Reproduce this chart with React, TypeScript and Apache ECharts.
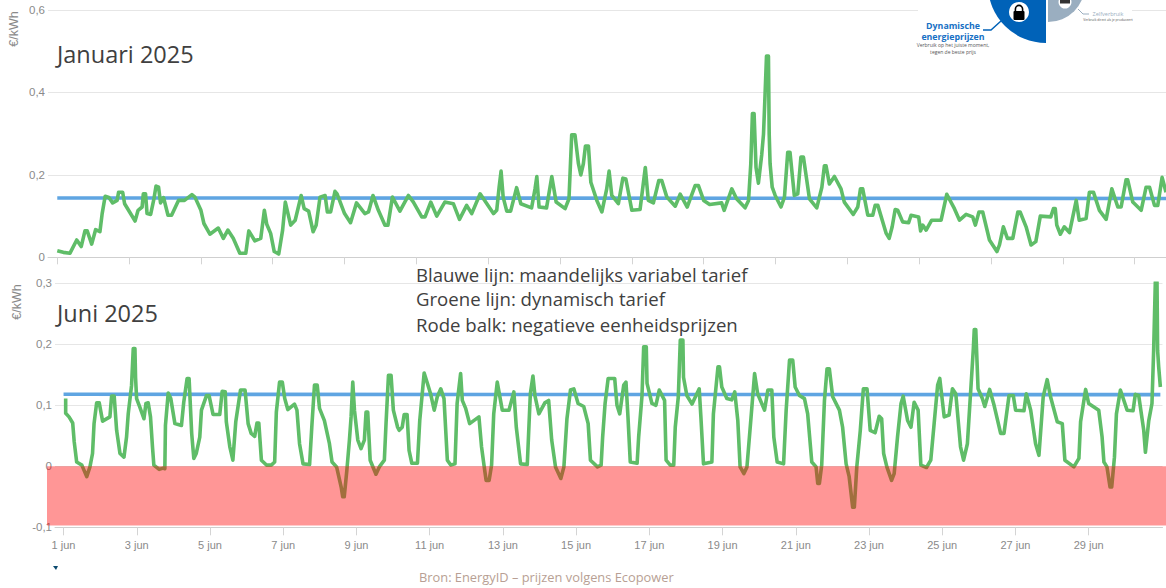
import React, { useEffect, useRef } from "react";
import * as echarts from "echarts";

const janHourTicks = [0,48,96,144,192,240,288,336,384,432,480,528,576,624,672,720];
const junHourTicks = [0,48,96,144,192,240,288,336,384,432,480,528,576,624,672];
const junTickLabels = ["1 jun","3 jun","5 jun","7 jun","9 jun","11 jun","13 jun","15 jun","17 jun","19 jun","21 jun","23 jun","25 jun","27 jun","29 jun"];
const janVariable = [[0,.144],[8,.144],[8,.1428],[744,.1428]];
const junVariable = [[0,.118],[11,.118],[11,.1175],[719,.1175]];
const janDynamic = [
[0,.016],[4,.012],[8.5,.01],[13,.042],[16,.026],[18.5,.064],[20,.064],[23,.032],[25.6,.067],[28.5,.062],[30,.106],[32,.148],[34.5,.145],[37,.132],[40,.138],[41,.158],[43.7,.158],[45,.13],[52,.088],[54,.114],[56.7,.122],[57.5,.154],[59,.154],[60,.106],[62.4,.104],[64.6,.142],[66,.173],[67.7,.17],[69,.132],[71,.145],[74,.102],[76.4,.102],[81,.138],[85,.138],[90,.152],[92,.146],[96,.114],[98,.082],[102,.056],[107.6,.071],[111,.046],[114,.066],[117.6,.046],[122,.01],[126,.01],[128,.064],[132,.04],[136,.046],[138.4,.114],[140,.08],[142.6,.058],[145,.014],[148,.008],[150.6,.066],[152.4,.134],[156,.078],[159,.09],[163,.15],[165,.118],[168,.112],[171,.062],[173,.078],[175.6,.146],[179,.15],[180.5,.11],[182.7,.11],[185.6,.16],[187,.154],[192,.106],[196,.084],[200,.132],[205.6,.106],[208,.11],[211,.15],[214.6,.114],[219,.078],[221,.078],[224,.146],[229,.112],
[234.7,.15],[238,.134],[243.6,.098],[245.8,.098],[249.6,.134],[253.6,.1],[259,.134],[264.7,.13],[268.8,.092],[273.6,.126],[277,.106],[282.6,.154],[291.5,.106],[293.7,.114],[295.3,.17],[296.6,.209],[298,.146],[300.4,.112],[303,.112],[307,.169],[309.8,.13],[317,.12],[319.3,.166],[320.5,.196],[322,.122],[327,.12],[330.5,.196],[333.4,.134],[339.4,.118],[342,.142],[343.8,.297],[346,.297],[348.3,.227],[349.9,.2],[351.6,.227],[353,.27],[355,.27],[356.6,.182],[360.6,.138],[364,.11],[367.2,.166],[368.8,.209],[370.6,.15],[375,.13],[378,.192],[380,.19],[384,.114],[389.5,.116],[393,.218],[395,.138],[398.4,.132],[402,.186],[404,.186],[407.4,.146],[413,.124],[416.3,.153],[421,.122],[426.3,.174],[428.5,.174],[432,.138],[436,.128],[444,.132],[445.7,.114],[450.8,.166],[454,.142],[459.7,.12],[462,.138],[463.5,.227],[464.6,.349],[465.7,.349],[467,.218],[468.6,.18],[470.8,.249],[472,.299],[473,.391],[474,.488],[475.3,.488],[475.8,.299],[476.4,.227],[477.8,.17],[479.8,.15],[483.7,.122],[486,.146],[488.2,.255],[489.7,.255],[492.6,.15],[494.9,.154],[497,.243],[498.7,.243],[502.7,.142],[507.6,.12],[511,.17],[512.7,.222],[513.8,.222],[516,.178],[519.4,.196],[523.8,.166],[526,.134],[532,.104],[535,.122],[536.8,.166],[538.3,.166],[541.7,.102],[545,.102],[546.6,.126],[548.4,.126],[554,.058],[556,.046],[558,.074],[560,.116],[561.7,.114],[565,.086],[569,.084],[570.6,.102],[575.7,.098],[577,.064],[578.4,.078],[580.7,.066],[584.4,.09],[590.7,.09],[594.5,.153],[599.6,.118],[603,.09],[607.4,.104],[611.8,.098],[613.6,.078],[616,.11],[618.5,.11],[623,.042],[628,.014],[629.7,.03],[632.3,.074],[635,.046],[638.6,.046],[642,.11],[643.5,.11],[647.5,.074],[650.8,.03],[654,.038],[657,.1],[664,.098],[665.8,.118],[667,.118],[668,.078],[670.4,.056],[673,.074],[676.5,.06],[681,.138],[683,.09],[687.6,.094],[689.8,.158],[692.5,.158],[696.5,.114],[701,.092],[704.8,.166],[708.8,.122],[711,.122],[714.3,.188],[715.4,.188],[718.8,.134],[724.4,.114],[727.7,.17],[730,.17],[733.3,.126],[735.5,.126],[738.4,.194],[741,.158]
];
const junDynamic = [
[1.4,.111],[1.4,.087],[3.6,.081],[6,.071],[7,.04],[8.6,.007],[12,.002],[15.2,-.017],[17.3,-.001],[19,.021],[20,.07],[21.7,.104],[23.4,.104],[25.6,.074],[30.4,.081],[31.5,.115],[33.2,.115],[34.8,.059],[37,.021],[39.6,.015],[41.3,.048],[42.4,.086],[44.6,.133],[45.7,.193],[46.8,.193],[47.2,.146],[47.9,.111],[50,.097],[52.7,.078],[54,.103],[55.5,.104],[57,.081],[58.3,.032],[59.2,.002],[62.7,-.005],[65.3,-.003],[66.4,-.004],[66.8,.067],[68.6,.12],[70.3,.111],[73,.07],[77.3,.067],[78.8,.105],[81,.144],[82.3,.144],[84,.054],[85.4,.013],[87,.021],[89.3,.048],[90.4,.092],[93.7,.116],[95.4,.116],[98,.085],[102.4,.085],[104,.123],[106,.122],[106.7,.073],[109,.032],[111,.01],[112.9,.073],[116,.125],[119,.125],[121,.07],[123,.054],[125.3,.049],[126.8,.071],[128,.071],[129.7,.01],[133,.002],[136.2,.002],[138.4,.007],[139.5,.089],[141.6,.138],[143.4,.138],[145,.111],[147,.093],[151.4,.102],[153,.092],[154.7,.037],[157,.004],[161.3,.003],[162.8,.067],[164.5,.133],[166.3,.133],[167.8,.095],[171,.075],[174.3,.037],[176,.007],[179,-.001],[182,-.034],[183,-.05],[184,-.05],[185.7,-.007],[187.4,.043],[188.5,.081],[189.6,.138],[190.7,.092],[192.9,.043],[195,.029],[197.2,.043],[198.3,.089],[199.4,.089],[201,.01],[204.8,-.013],[207,-.001],[210.3,.01],[211.4,.07],[213,.149],[214.7,.149],[216.2,.092],[219,.064],
[220,.059],[222,.064],[223.3,.085],[225.2,.085],[226.5,.026],[228.3,.005],[232,.005],[233.5,.075],[236.4,.153],[238.5,.136],[240.7,.118],[243,.092],[245,.114],[247.3,.127],[249.4,.111],[251.6,.01],[253.8,.002],[256.6,.004],[258,.103],[260.3,.152],[261.4,.108],[263.6,.095],[266.2,.07],[272.3,.081],[274,.032],[275.6,.002],[277,-.023],[279,-.023],[280.6,.002],[282,.086],[284.3,.138],[287.6,.092],[292,.092],[295.2,.122],[296.8,.064],[299.6,.004],[304,.003],[306,.119],[307.7,.148],[309,.116],[311.6,.086],[315.5,.104],[318,.108],[320,.043],[322.5,-.001],[326,-.02],[328,-.001],[330,.078],[332.3,.125],[334.5,.127],[337.3,.103],[341,.098],[343.9,.07],[345.4,.01],[350,-.001],[352.4,.002],[353.4,.048],[355,.103],[357,.144],[361.3,.144],[362.8,.1],[364.6,.086],[367.2,.133],[368.7,.138],[370,.081],[371.5,.007],[376,.005],[377,.048],[379.2,.116],[380.3,.196],[382,.196],[382.5,.136],[385.7,.103],[388.3,.1],[390.5,.125],[394,.108],[395,.01],[397.7,.002],[400,.002],[401,.064],[403,.114],[404.3,.207],[406,.207],[406.4,.146],[408.6,.116],[412,.102],[416.7,.127],[417.8,.081],[419.5,.004],[425,.007],[426,.086],[429,.163],[430,.163],[431.5,.13],[434.8,.111],[438,.109],[440,.122],[442,.075],[443.5,-.001],[446,-.012],[448,-.001],[450.7,.081],[453,.152],[455,.119],[459.5,.092],
[461.7,.125],[464.3,.125],[465.6,.048],[467.8,.007],[472,.004],[473.7,.092],[475.9,.174],[478,.174],[479.6,.13],[482.4,.116],[485.7,.111],[487.8,.086],[490.5,.007],[493.3,-.001],[494.4,-.028],[495.5,-.028],[497,.002],[498.8,.108],[500.5,.16],[502,.16],[504.2,.114],[508.6,.092],[510.7,.064],[513,.004],[515,-.017],[517.3,-.067],[518.4,-.067],[520,-.001],[522.3,.059],[524.3,.127],[526.7,.127],[528.8,.059],[532,.055],[534.7,.082],[536.3,.078],[537.6,.021],[539.7,-.001],[542.8,-.023],[544.5,-.012],[546.7,.048],[549,.103],[550.4,.115],[553.3,.075],[555.5,.064],[557.6,.105],[560.2,.092],[562,.002],[565.7,-.002],[568.5,.01],[570.7,.07],[573,.133],[574.4,.144],[577.3,.081],[580.5,.084],[582.7,.127],[584.9,.119],[588,.032],[590,.01],[592.5,.037],[595.1,.141],[596.4,.193],[597,.224],[598,.224],[599.5,.127],[602.3,.111],[603.9,.098],[607.1,.126],[610,.1],[614.3,.054],[616.5,.054],[619.8,.116],[622.6,.116],[624.1,.092],[629.6,.091],[631.1,.119],[634,.092],[637.2,.037],[639.4,.018],[642.2,.114],[644.8,.142],[647,.114],[651.4,.073],[654.7,.07],[656.4,.01],[662.3,-.001],[665.6,.013],[666.7,.073],[670,.126],[672,.103],[678.6,.092],[680.8,.048],[682,.007],[684,-.001],[686,-.034],[687.1,-.034],[688.9,.015],[690.2,.086],[692.8,.125],[697.2,.092],[701.1,.091],[702.6,.118],[704.8,.116],[708.1,.059],[709.2,.023],[711.4,.075],[713.5,.103],[714.6,.19],[715.7,.302],[716.8,.302],[717.2,.19],[717.9,.163],[719,.13]
];

const GREEN = "#5fbd68";
const BLUE = "#5fa5e2";
const GREY = "#8a8a8a";
const TEXT = "#404040";
const SANS = "'Open Sans', sans-serif";
const AXIS_FONT = "Liberation Sans, Arial";
const axisFmt = (v: number) => (v === 0 ? "0" : v.toFixed(1).replace(".", ","));

function logo(): any[] {
  const blue = "#0062b8";
  const slate = "#9aaec0";
  const t = (text: string, x: number, y: number, fontSize: number, fill: string, fontWeight: any = "normal") => ({
    type: "text", z: 105, style: { text, x, y, fontSize, fill, fontWeight, fontFamily: SANS, align: "center", verticalAlign: "middle" },
  });
  return [
    { type: "rect", z: 100, shape: { x: 918, y: 0, width: 214, height: 56 }, style: { fill: "#fff" } },
    { type: "sector", z: 101, shape: { cx: 1046, cy: -15, r: 58, r0: 0, startAngle: Math.PI / 2, endAngle: Math.PI, clockwise: true }, style: { fill: blue } },
    { type: "sector", z: 101, shape: { cx: 1048, cy: -15, r: 37, r0: 0, startAngle: 0, endAngle: Math.PI / 2, clockwise: true }, style: { fill: slate } },
    { type: "polyline", z: 102, shape: { points: [[983, 30], [991, 30], [1001, 21]] }, style: { stroke: blue, lineWidth: 1.5, fill: "none" } },
    { type: "polyline", z: 102, shape: { points: [[1078, 9], [1083, 14], [1089, 14]] }, style: { stroke: slate, lineWidth: 1, fill: "none" } },
    { type: "circle", z: 102, shape: { cx: 1019, cy: 12, r: 10 }, style: { fill: "#fff" } },
    { type: "rect", z: 103, shape: { x: 1013.5, y: 11, width: 11, height: 9, r: 1 }, style: { fill: "#000" } },
    { type: "arc", z: 103, shape: { cx: 1019, cy: 9, r: 3.6, startAngle: Math.PI, endAngle: 2 * Math.PI, clockwise: true }, style: { stroke: "#000", lineWidth: 1.6, fill: "none" } },
    { type: "rect", z: 103, shape: { x: 1014.6, y: 9, width: 1.6, height: 3 }, style: { fill: "#000" } },
    { type: "rect", z: 103, shape: { x: 1021.8, y: 9, width: 1.6, height: 3 }, style: { fill: "#000" } },
    { type: "circle", z: 102, shape: { cx: 1065, cy: 2, r: 6.5 }, style: { fill: "#fff" } },
    { type: "rect", z: 103, shape: { x: 1060, y: 0, width: 10, height: 3.5 }, style: { fill: "#333" } },
    t("Dynamische", 953, 26, 8.8, "#1670c4", "bold"),
    t("energieprijzen", 953, 36.5, 8.8, "#1670c4", "bold"),
    t("Verbruik op het juiste moment,", 953, 45, 5, "#555"),
    t("tegen de beste prijs", 953, 51.5, 5, "#555"),
    t("Zelfverbruik", 1108, 14, 5.5, slate),
    t("Verbruik direct als je produceert", 1108, 19.3, 3.3, "#555"),
  ];
}

function texts(): any[] {
  const label = (text: string, x: number, y: number, fontSize: number, fill = TEXT) => ({
    type: "text", z: 110, style: { text, x, y, fontSize, fill, fontFamily: SANS, align: "left", verticalAlign: "middle" },
  });
  return [
    label("Januari 2025", 57, 54, 23.5),
    label("Juni 2025", 57, 313, 23.5),
    label("Blauwe lijn: maandelijks variabel tarief", 416, 274, 18.6),
    label("Groene lijn: dynamisch tarief", 416, 298.5, 18.6),
    label("Rode balk: negatieve eenheidsprijzen", 416, 324, 18.6),
    label("Bron: EnergyID – prijzen volgens Ecopower", 419, 577, 12.85, "#b89f94"),
    { type: "polygon", z: 110, shape: { points: [[53, 566], [58, 566], [56, 570]] }, style: { fill: "#0b4a6f" } },
  ];
}

const lineSeries = (name: string, data: number[][], idx: number, color: string, z: number) => ({
  name, type: "line", data, xAxisIndex: idx, yAxisIndex: idx, showSymbol: false, z,
  lineStyle: { color, width: 3.6, join: "round" }, itemStyle: { color }, silent: true,
});

export default function App() {
  const ref = useRef<HTMLDivElement>(null);
  useEffect(() => {
    const chart = echarts.init(ref.current!, undefined, { renderer: "svg", width: 1166, height: 588 });
    const xAxis = (gridIndex: number, min: number, max: number, ticks: number[], tickLen: number, labels?: string[]) => ({
      type: "value", gridIndex, min, max, splitLine: { show: false },
      axisLine: { show: true, onZero: false, lineStyle: { color: "#cfcfcf", width: 1 } },
      axisTick: { show: true, length: tickLen, customValues: ticks, lineStyle: { color: "#d4d4d4" } },
      axisLabel: labels
        ? { show: true, customValues: ticks, color: GREY, fontSize: 11, fontFamily: AXIS_FONT, margin: 12, formatter: (v: number) => labels[ticks.indexOf(v)] ?? "" }
        : { show: false },
    });
    const yAxis = (gridIndex: number, min: number, max: number, interval: number) => ({
      type: "value", gridIndex, min, max, interval,
      axisLine: { show: false }, axisTick: { show: false },
      splitLine: { show: true, lineStyle: { color: "#e6e6e6", width: 1 } },
      axisLabel: { color: GREY, fontSize: 11.5, fontFamily: AXIS_FONT, margin: 3, formatter: axisFmt },
    });
    chart.setOption({
      animation: false,
      backgroundColor: "#fff",
      grid: [
        { left: 48, top: 10, width: 1118, height: 247.3, containLabel: false },
        { left: 55, top: 283.3, width: 1107.5, height: 244, containLabel: false },
      ],
      xAxis: [xAxis(0, -6.2, 741, janHourTicks, 7), xAxis(1, -5.6, 720.4, junHourTicks, 8, junTickLabels)],
      yAxis: [yAxis(0, 0, 0.6, 0.2), yAxis(1, -0.1, 0.3, 0.1)],
      series: [
        lineSeries("Maandelijks variabel tarief januari", janVariable, 0, BLUE, 2),
        lineSeries("Dynamisch tarief januari", janDynamic, 0, GREEN, 3),
        lineSeries("Maandelijks variabel tarief juni", junVariable, 1, BLUE, 2),
        lineSeries("Dynamisch tarief juni", junDynamic, 1, GREEN, 3),
      ],
    });
    const zeroY = chart.convertToPixel({ yAxisIndex: 1 }, 0) as number;
    const bandY = chart.convertToPixel({ yAxisIndex: 1 }, -0.097) as number;
    chart.setOption({
      graphic: [
        { type: "rect", z: 90, shape: { x: 47, y: zeroY, width: 1119, height: bandY - zeroY }, style: { fill: "rgba(255,0,0,0.41)" } },
        { type: "text", z: 95, rotation: Math.PI / 2, x: 14, y: 29, style: { text: "€/kWh", fontSize: 12.5, fill: GREY, fontFamily: AXIS_FONT, align: "center", verticalAlign: "middle" } },
        { type: "text", z: 95, rotation: Math.PI / 2, x: 17, y: 302, style: { text: "€/kWh", fontSize: 12.5, fill: GREY, fontFamily: AXIS_FONT, align: "center", verticalAlign: "middle" } },
        ...logo(),
        ...texts(),
      ],
    });
    return () => chart.dispose();
  }, []);
  return <div ref={ref} style={{ position: "absolute", left: 0, top: 0, width: 1166, height: 588 }} />;
}
